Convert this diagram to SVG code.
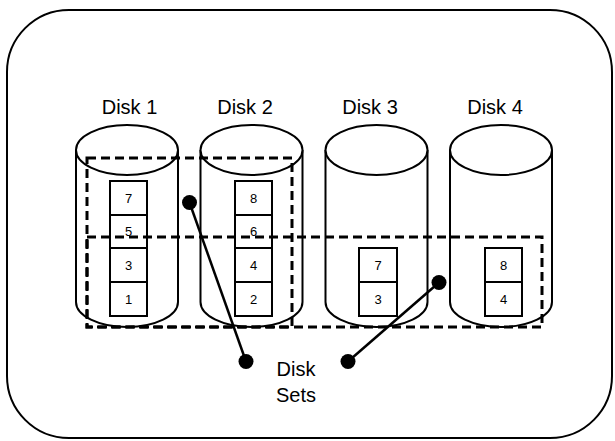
<svg xmlns="http://www.w3.org/2000/svg" width="615" height="441" viewBox="0 0 615 441">
  <style>
    .frame { fill: #ffffff; stroke: #000000; stroke-width: 2; }
    .cyl { fill: #ffffff; stroke: #000000; stroke-width: 2; }
    .blk { fill: #ffffff; stroke: #000000; stroke-width: 2; }
    .set { fill: none; stroke: #000000; stroke-width: 3; stroke-dasharray: 9 5; }
    .link { stroke: #000000; stroke-width: 2.5; fill: none; }
    .dot { fill: #000000; }
    .lbl { font-family: "Liberation Sans", Arial, sans-serif; font-size: 20px; fill: #000000; text-anchor: middle; }
    .num { font-family: "Liberation Sans", Arial, sans-serif; font-size: 13px; fill: #000000; text-anchor: middle; }
  </style>
  <defs>
    <!-- cylinder body centred on x=0 -->
    <g id="cylinder">
      <path class="cyl" d="M -51 150 L -51 302 A 51 25 0 0 0 51 302 L 51 150"/>
      <ellipse class="cyl" cx="0" cy="150" rx="51" ry="25"/>
    </g>
  </defs>

  <rect class="frame" x="7" y="10" width="605" height="428" rx="62" ry="62"/>

  <g id="disk1">
    <text class="lbl" x="129.5" y="114">Disk 1</text>
    <use href="#cylinder" x="127"/>
  </g>
  <g id="disk2">
    <text class="lbl" x="245" y="114">Disk 2</text>
    <use href="#cylinder" x="251.5"/>
  </g>
  <g id="disk3">
    <text class="lbl" x="370" y="114">Disk 3</text>
    <use href="#cylinder" x="376.5"/>
  </g>
  <g id="disk4">
    <text class="lbl" x="495" y="114">Disk 4</text>
    <use href="#cylinder" x="501"/>
  </g>

  <!-- data blocks -->
  <g id="blocks1">
    <rect class="blk" x="110" y="181" width="37" height="34"/>
    <rect class="blk" x="110" y="215" width="37" height="33"/>
    <rect class="blk" x="110" y="248" width="37" height="34"/>
    <rect class="blk" x="110" y="282" width="37" height="34"/>
    <text class="num" x="128.5" y="203">7</text>
    <text class="num" x="128.5" y="236">5</text>
    <text class="num" x="128.5" y="270">3</text>
    <text class="num" x="128.5" y="304">1</text>
  </g>
  <g id="blocks2">
    <rect class="blk" x="235" y="181" width="37" height="34"/>
    <rect class="blk" x="235" y="215" width="37" height="33"/>
    <rect class="blk" x="235" y="248" width="37" height="34"/>
    <rect class="blk" x="235" y="282" width="37" height="34"/>
    <text class="num" x="253.5" y="203">8</text>
    <text class="num" x="253.5" y="236">6</text>
    <text class="num" x="253.5" y="270">4</text>
    <text class="num" x="253.5" y="304">2</text>
  </g>
  <g id="blocks3">
    <rect class="blk" x="359" y="248" width="38" height="34"/>
    <rect class="blk" x="359" y="282" width="38" height="34"/>
    <text class="num" x="378" y="270">7</text>
    <text class="num" x="378" y="304">3</text>
  </g>
  <g id="blocks4">
    <rect class="blk" x="485" y="248" width="37" height="34"/>
    <rect class="blk" x="485" y="282" width="37" height="34"/>
    <text class="num" x="503.5" y="270">8</text>
    <text class="num" x="503.5" y="304">4</text>
  </g>

  <!-- disk set outlines -->
  <g id="set-a">
    <rect class="set" x="87" y="158" width="205" height="169"/>
  </g>
  <g id="set-b">
    <rect class="set" x="87" y="237" width="455" height="90"/>
  </g>

  <g id="label">
    <text class="lbl" x="296" y="376">Disk</text>
    <text class="lbl" x="296" y="402">Sets</text>
  </g>

  <g id="connectors">
    <line class="link" x1="189.5" y1="202.5" x2="246" y2="361.5"/>
    <line class="link" x1="348" y1="361.5" x2="439" y2="282.5"/>
    <circle class="dot" cx="189.5" cy="202.5" r="7.5"/>
    <circle class="dot" cx="246" cy="361.5" r="7.5"/>
    <circle class="dot" cx="348" cy="361.5" r="7.5"/>
    <circle class="dot" cx="439" cy="282.5" r="7.5"/>
  </g>
</svg>
